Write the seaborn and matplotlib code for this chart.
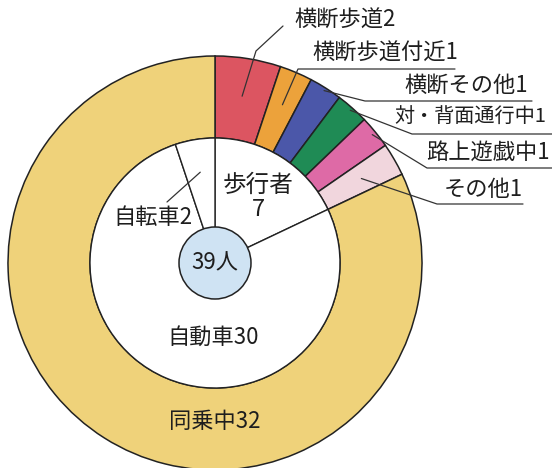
import numpy as np
import matplotlib
matplotlib.use("Agg")
import matplotlib.pyplot as plt
import seaborn as sns

# outer ring: situation of each victim
outer_labels = ["横断歩道", "横断歩道付近", "横断その他", "対・背面通行中", "路上遊戯中", "その他", "同乗中"]
outer_values = [2, 1, 1, 1, 1, 1, 32]
outer_colors = ["#dc5561", "#eca23b", "#4b57a9", "#1f8b55", "#de6aa6", "#f1d6dd", "#efd27a"]

# inner pie: road user type
inner_labels = ["歩行者", "自動車", "自転車"]
inner_values = [7, 30, 2]

total_text = "39人"

sns.set_theme(style="white")
plt.rcParams["font.family"] = ["Noto Sans CJK JP", "DejaVu Sans"]

W, H = 552, 468
fig = plt.figure(figsize=(W / 100, H / 100), dpi=100)
ax = fig.add_axes([0, 0, 1, 1])


def P(x, y):
    # image pixel coords (y down) -> axes coords
    return x, H - y


cx, cy = P(215, 263)
r_out, r_in, r_core = 207, 125, 36
edge = "#222222"

ax.pie(outer_values, colors=outer_colors, startangle=90, counterclock=False,
       radius=r_out, center=(cx, cy), frame=True,
       wedgeprops=dict(width=r_out - r_in, edgecolor=edge, linewidth=1.1))
ax.pie(inner_values, colors=["white"] * 3, startangle=90, counterclock=False,
       radius=r_in, center=(cx, cy), frame=True,
       wedgeprops=dict(edgecolor=edge, linewidth=1.0))
ax.add_patch(plt.Circle((cx, cy), r_core, facecolor="#cfe3f3", edgecolor=edge, linewidth=1.1, zorder=5))
ax.set_xlim(0, W)
ax.set_ylim(0, H)
ax.set_aspect("equal")
ax.axis("off")


def mid_angle(values, i):
    c = np.cumsum([0] + list(values))
    frac = (c[i] + c[i + 1]) / 2 / c[-1]
    return np.deg2rad(90 - 360 * frac)


txt = "#1e1e1e"
fs = 16

# right-hand labels with leader lines
label_pos = [(345, 20), (385, 53), (466, 85), (470, 117), (488, 152), (483, 189)]
label_fs = [fs, fs, fs, 14.5, fs, fs]
leader_r = [169, 172, 204, 204, 203, 169]
leader_path = [
    [(256, 51), (283, 26)],
    [(298, 69), (455, 69)],
    [(365, 101), (532, 101)],
    [(412, 134), (552, 134)],
    [(427, 168), (552, 168)],
    [(437, 204), (523, 204)],
]
for i in range(6):
    a = mid_angle(outer_values, i)
    sx, sy = cx + leader_r[i] * np.cos(a), cy + leader_r[i] * np.sin(a)
    pts = [(sx, sy)] + [P(*p) for p in leader_path[i]]
    xs, ys = zip(*pts)
    ax.plot(xs, ys, color="#333333", lw=0.9, zorder=6)
    ax.text(*P(*label_pos[i]), f"{outer_labels[i]}{outer_values[i]}", fontsize=label_fs[i],
            color=txt, ha="center", va="center", zorder=7)

# inner labels
ax.text(*P(258, 185), inner_labels[0], fontsize=17, color=txt, ha="center", va="center", zorder=7)
ax.text(*P(258, 209), str(inner_values[0]), fontsize=17, color=txt, ha="center", va="center", zorder=7)
ax.text(*P(213, 337), f"{inner_labels[1]}{inner_values[1]}", fontsize=fs, color=txt,
        ha="center", va="center", zorder=7)
ax.text(*P(153, 218), f"{inner_labels[2]}{inner_values[2]}", fontsize=fs, color=txt,
        ha="center", va="center", zorder=7)
a = mid_angle(inner_values, 2)
ax.plot([P(167, 202)[0], cx + 92 * np.cos(a)], [P(167, 202)[1], cy + 92 * np.sin(a)],
        color="#333333", lw=0.9, zorder=6)

ax.text(*P(215, 422), f"{outer_labels[6]}{outer_values[6]}", fontsize=fs, color=txt,
        ha="center", va="center", zorder=7)
ax.text(cx, cy, total_text, fontsize=16, color=txt, ha="center", va="center", zorder=7)

fig.savefig("out.png", dpi=100, facecolor="white")
